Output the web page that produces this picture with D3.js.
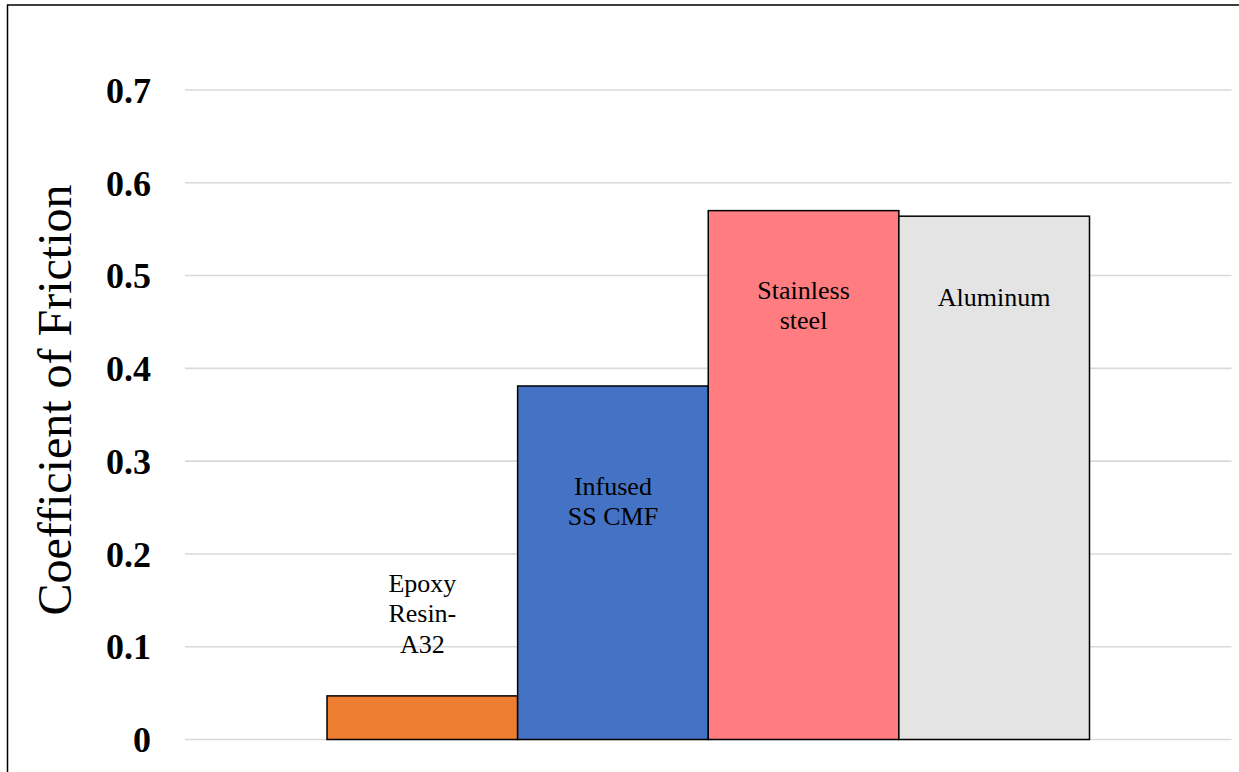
<!DOCTYPE html>
<html>
<head>
<meta charset="utf-8">
<script src="https://cdn.jsdelivr.net/npm/d3@7"></script>
<style>
html,body{margin:0;padding:0;background:#fff;}
svg{display:block;}
</style>
</head>
<body>
<svg id="chart" width="1239" height="772"></svg>
<script>
// ---- data ----
const categories = ["Epoxy Resin-A32", "Infused SS CMF", "Stainless steel", "Aluminum"];
const labelLines = [["Epoxy", "Resin-", "A32"], ["Infused", "SS CMF"], ["Stainless", "steel"], ["Aluminum"]];
const values = [0.047, 0.381, 0.570, 0.564];
const colors = ["#ED7D31", "#4472C4", "#FF7C80", "#E4E4E4"];
const yTicks = [0, 0.1, 0.2, 0.3, 0.4, 0.5, 0.6, 0.7];
const yTickLabels = ["0", "0.1", "0.2", "0.3", "0.4", "0.5", "0.6", "0.7"];
const yTitle = "Coefficient of Friction";
// label first-baseline position relative to bar top (px); negative = above
const labelFirstBaseline = [-104, 109, 88, 90];

const svg = d3.select("#chart");
const W = 1239, H = 772;
const plotLeft = 185, plotRight = 1231.5, plotTop = 90, plotBottom = 739.5;

const x = d3.scaleBand().domain(categories).range([plotLeft, plotRight]).paddingInner(0).paddingOuter(0.745);
const y = d3.scaleLinear().domain([0, 0.7]).range([plotBottom, plotTop]);

// outer border (only left & top visible)
svg.append("rect").attr("x", 7.5).attr("y", 5).attr("width", W + 20).attr("height", H + 20)
  .attr("fill", "none").attr("stroke", "#000").attr("stroke-width", 1.5);

// gridlines
svg.append("g").selectAll("line").data(yTicks).join("line")
  .attr("x1", plotLeft).attr("x2", plotRight)
  .attr("y1", d => y(d)).attr("y2", d => y(d))
  .attr("stroke", "#D9D9D9").attr("stroke-width", 1.6);

// y axis labels via d3 axis
const yAxis = d3.axisLeft(y).tickValues(yTicks).tickFormat((d, i) => yTickLabels[i]).tickSize(0).tickPadding(34);
const gy = svg.append("g").attr("transform", `translate(${plotLeft},0)`).call(yAxis);
gy.select(".domain").remove();
gy.selectAll("text")
  .attr("font-family", "'Liberation Serif', 'Times New Roman', serif")
  .attr("font-weight", "bold").attr("font-size", 36).attr("fill", "#000")
  .attr("dy", "0.34em");

// y title
svg.append("text")
  .attr("transform", `translate(71, 400) rotate(-90)`)
  .attr("text-anchor", "middle")
  .attr("font-family", "'Liberation Serif', 'Times New Roman', serif")
  .attr("font-size", 48).attr("fill", "#000")
  .text(yTitle);

// bars
svg.append("g").selectAll("rect").data(values).join("rect")
  .attr("x", (d, i) => x(categories[i]))
  .attr("y", d => y(d))
  .attr("width", x.bandwidth())
  .attr("height", d => y(0) - y(d))
  .attr("fill", (d, i) => colors[i])
  .attr("stroke", "#000").attr("stroke-width", 1.5);

// labels
const lg = svg.append("g")
  .attr("font-family", "'Liberation Serif', 'Times New Roman', serif")
  .attr("font-size", 26).attr("fill", "#000").attr("text-anchor", "middle");
values.forEach((v, i) => {
  const cx = x(categories[i]) + x.bandwidth() / 2;
  const t = lg.append("text").attr("x", cx).attr("y", y(v) + labelFirstBaseline[i]);
  labelLines[i].forEach((line, j) => {
    t.append("tspan").attr("x", cx).attr("dy", j === 0 ? 0 : 30.5).text(line);
  });
});
</script>
</body>
</html>
